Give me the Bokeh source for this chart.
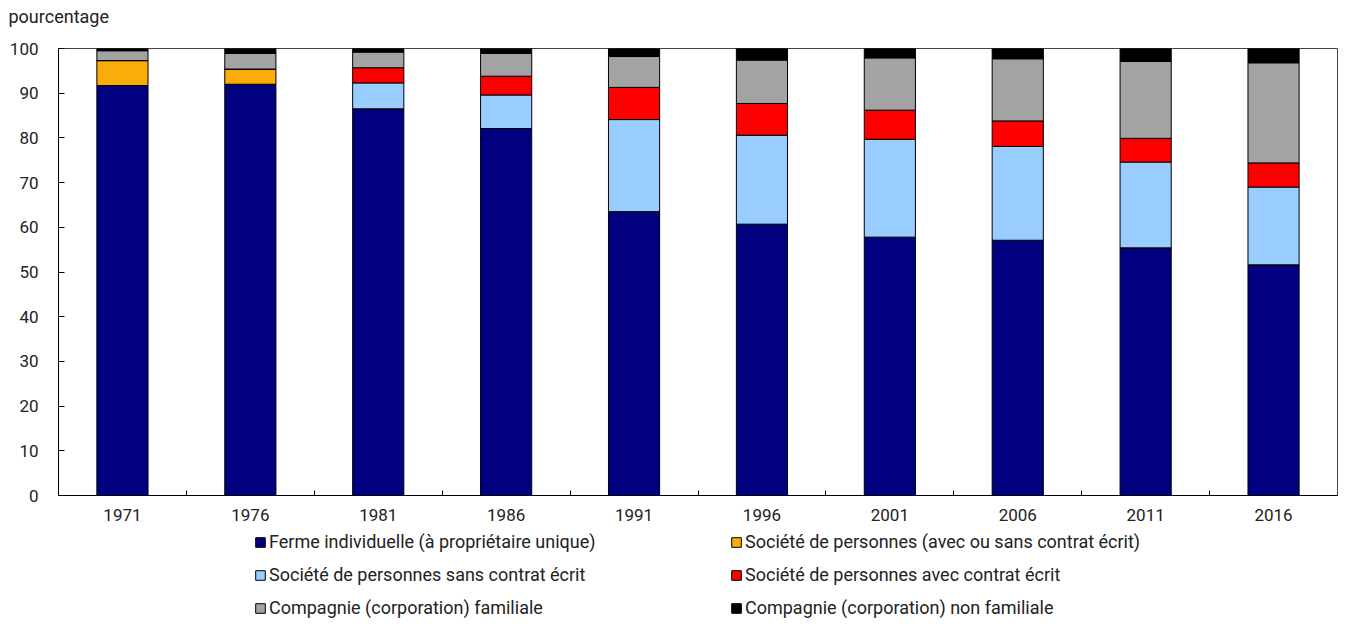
from bokeh.plotting import figure
from bokeh.layouts import column
from bokeh.models import ColumnDataSource, FixedTicker, Range1d, Legend, LegendItem
from bokeh.embed import file_html
from bokeh.resources import INLINE

years = ["1971", "1976", "1981", "1986", "1991", "1996", "2001", "2006", "2011", "2016"]
ferme = [91.7, 92.0, 86.5, 82.1, 63.5, 60.7, 57.8, 57.1, 55.4, 51.6]
societe_toutes = [5.6, 3.4, 0, 0, 0, 0, 0, 0, 0, 0]
societe_sans = [0, 0, 5.8, 7.5, 20.6, 19.9, 21.9, 21.0, 19.2, 17.4]
societe_avec = [0, 0, 3.4, 4.2, 7.2, 7.1, 6.5, 5.7, 5.3, 5.4]
corp_fam = [2.2, 3.5, 3.5, 5.1, 6.9, 9.7, 11.7, 13.9, 17.2, 22.4]
corp_nonfam = [0.5, 1.1, 0.8, 1.1, 1.8, 2.6, 2.1, 2.3, 2.9, 3.2]

series_keys = ["ferme", "societe_toutes", "societe_sans", "societe_avec", "corp_fam", "corp_nonfam"]
series_labels = [
    "Ferme individuelle (à propriétaire unique)",
    "Société de personnes (avec ou sans contrat écrit)",
    "Société de personnes sans contrat écrit",
    "Société de personnes avec contrat écrit",
    "Compagnie (corporation) familiale",
    "Compagnie (corporation) non familiale",
]
colors = ["#000080", "#FAAC0A", "#99CCFF", "#FF0000", "#A3A3A3", "#000000"]
y_ticks = [0, 10, 20, 30, 40, 50, 60, 70, 80, 90, 100]

FONT = "Roboto"
TXT = "#222222"
W = 1340

idx = list(range(len(years)))
source = ColumnDataSource(data=dict(
    x=idx,
    ferme=ferme,
    societe_toutes=societe_toutes,
    societe_sans=societe_sans,
    societe_avec=societe_avec,
    corp_fam=corp_fam,
    corp_nonfam=corp_nonfam,
))

# ---------------- main chart ----------------
p = figure(width=W, height=529, output_backend="svg", toolbar_location=None,
           x_range=Range1d(-0.5, len(years) - 0.5), y_range=Range1d(0, 100),
           min_border_left=58, min_border_right=3, min_border_top=48, min_border_bottom=34)

p.vbar_stack(series_keys, x="x", width=0.4, source=source,
             color=colors, line_color="black", line_width=1)

p.xgrid.visible = False
p.ygrid.visible = False
p.outline_line_color = "#444444"
p.outline_line_width = 1

xa = p.xaxis[0]
xa.ticker = FixedTicker(ticks=idx, minor_ticks=[i + 0.5 for i in idx[:-1]])
xa.major_label_overrides = {i: y for i, y in zip(idx, years)}
xa.major_tick_in = 0
xa.major_tick_out = 0
xa.minor_tick_in = 5
xa.minor_tick_out = 0
xa.minor_tick_line_color = "black"
xa.axis_line_color = "black"
xa.major_label_text_font = FONT
xa.major_label_text_font_size = "17px"
xa.major_label_text_color = TXT
xa.major_label_standoff = 13

ya = p.yaxis[0]
ya.ticker = FixedTicker(ticks=y_ticks, minor_ticks=[])
ya.major_tick_in = 6
ya.major_tick_out = 0
ya.major_tick_line_color = "black"
ya.axis_line_color = "black"
ya.major_label_text_font = FONT
ya.major_label_text_font_size = "17px"
ya.major_label_text_color = TXT
ya.major_label_standoff = 20

# title sits in the top band; a trailing empty line lifts it towards the top edge
p.title.text = "pourcentage\n"
p.title.align = "left"
p.title.offset = -50
p.title.vertical_align = "top"
p.title.text_font = FONT
p.title.text_font_size = "18px"
p.title.text_font_style = "normal"
p.title.text_color = TXT
p.title.text_line_height = 0.95
p.title.standoff = 0

# ---------------- legend strip ----------------
lg = figure(width=W, height=90, output_backend="svg", toolbar_location=None,
            x_axis_type=None, y_axis_type=None,
            x_range=Range1d(-0.5, len(years) - 0.5), y_range=Range1d(1000, 1001),
            min_border=0, min_border_left=0, min_border_right=0,
            min_border_top=0, min_border_bottom=0)
lg.outline_line_color = None
lg.grid.visible = False
leg_renderers = lg.vbar_stack(series_keys, x="x", width=0.4, source=source,
                              color=colors, line_color="black", line_width=1)

items = [LegendItem(label=lab, renderers=[r]) for lab, r in zip(series_labels, leg_renderers)]
legend = Legend(items=items, location=(196, 1), orientation="horizontal", ncols=2,
                glyph_width=12, glyph_height=12, label_standoff=3,
                label_width=449, label_height=21, spacing=12,
                padding=0, margin=0,
                label_text_font=FONT, label_text_font_size="18px", label_text_color=TXT,
                border_line_alpha=0, background_fill_alpha=0)
lg.add_layout(legend, "center")

layout = column(p, lg, spacing=0)
open("out.html", "w").write(file_html(layout, INLINE))
